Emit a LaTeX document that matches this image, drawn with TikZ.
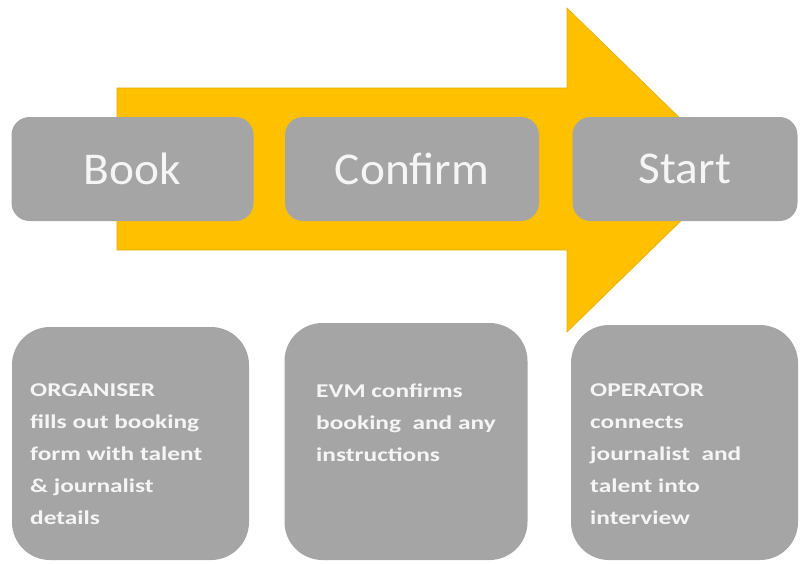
\documentclass[tikz,border=0pt]{standalone}
\usepackage{fontspec}
\setmainfont{Carlito}
\newfontfamily\stepfont[FakeStretch=1.04]{Carlito}
\newfontfamily\descfont[FakeStretch=1.3]{Carlito}
\definecolor{boxgrey}{HTML}{A5A5A5}
\definecolor{arroworange}{HTML}{FFC000}
\definecolor{arrowedge}{HTML}{E6AC00}
\definecolor{textwhite}{HTML}{F5F5F5}
\begin{document}
\begin{tikzpicture}[x=1pt,y=-1pt,
  stepbox/.style={fill=boxgrey, draw=none, rounded corners=18pt, inner sep=0pt,
    text=textwhite, font=\stepfont\fontsize{45.5}{50}\selectfont},
  descbox/.style={fill=boxgrey, draw=none, rounded corners=38pt, inner sep=0pt},
  desctext/.style={anchor=north west, inner sep=0pt, align=left, text=textwhite,
    font=\descfont\bfseries\fontsize{19.5}{32}\selectfont}
]
\useasboundingbox (0,0) rectangle (803,563);
% big arrow
\path[fill=arroworange, draw=arrowedge, line width=0.6pt]
  (117,88) -- (567,88) -- (567,8) -- (733,170) -- (567,332) -- (567,250) -- (117,250) -- cycle;
% step boxes
\node[stepbox, minimum width=242pt, minimum height=104pt] (book) at (132.5,169) {Book};
\node[stepbox, minimum width=254pt, minimum height=104pt] (confirm) at (412,169) {Confirm};
\node[stepbox, minimum width=225pt, minimum height=104pt] (start) at (685,169) {Start};
% description boxes
\node[descbox, minimum width=237pt, minimum height=233pt] (d1) at (130.5,443.5) {};
\node[descbox, minimum width=243pt, minimum height=237pt] (d2) at (406,441.5) {};
\node[descbox, minimum width=227pt, minimum height=235pt] (d3) at (684.5,442.5) {};
\node[desctext] (t1) at (30,384) {ORGANISER\\fills out booking\\form with talent\\\& journalist\\details};
\node[desctext] (t2) at (316,384) {EVM confirms\\booking\ \ and any\\instructions};
\node[desctext] (t3) at (590,384) {OPERATOR\\connects\\journalist\ \ and\\talent into\\interview};
\end{tikzpicture}
\end{document}
